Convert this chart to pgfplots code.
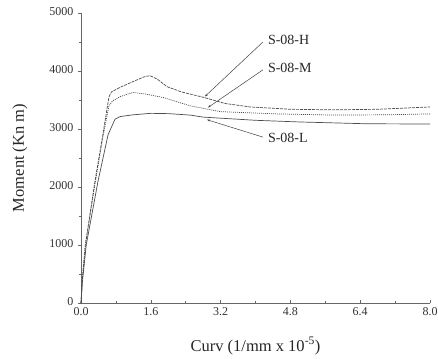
\documentclass[border=0pt]{standalone}
\usepackage{fontspec}
\setmainfont{Liberation Serif}
\usepackage{pgfplots}
\pgfplotsset{compat=1.18}
\usetikzlibrary{arrows.meta}
\begin{document}
\begin{tikzpicture}
\path[use as bounding box] (-81pt,-55pt) rectangle (357pt,303pt);
\begin{axis}[
  scale only axis, width=349pt, height=290pt,
  xmin=0, xmax=8, ymin=0, ymax=5000,
  axis lines=left, axis line style={-, gray!80!black, line width=0.6pt},
  xtick={0,1.6,3.2,4.8,6.4,8.0}, minor x tick num=1,
  ytick={0,1000,2000,3000,4000,5000}, minor y tick num=1,
  major tick length=3pt, minor tick length=2pt,
  tick align=inside,
  tick style={gray!80!black, line width=0.5pt},
  major y tick style={xshift=-3pt},
  minor y tick style={xshift=-2pt},
  xtick pos=bottom, ytick pos=left,
  tick label style={font=\fontsize{12}{14}\selectfont, text=black!80},
  x tick label style={yshift=-1pt, /pgf/number format/.cd, fixed, fixed zerofill, precision=1, assume math mode=true},
  y tick label style={xshift=-4pt, yshift=1pt, /pgf/number format/.cd, fixed, 1000 sep={}, assume math mode=true},
  scaled ticks=false,
  xlabel={Curv (1/mm x 10\textsuperscript{-5})},
  ylabel={Moment (Kn m)},
  label style={font=\fontsize{16.5}{19}\selectfont, text=black!85},
  xlabel style={at={(axis description cs:0.5,0)}, anchor=center, yshift=-43pt},
  ylabel style={at={(axis description cs:0,0.5)}, anchor=center, yshift=61pt},
  clip=false,
]
% S-08-H (dashed)
\addplot[black!70, line width=0.7pt, dash pattern=on 3pt off 1pt] coordinates {
 (0,0) (0.03,400) (0.1,1000) (0.32,2100) (0.5,2900) (0.64,3550) (0.7,3640) (0.9,3720)
 (1.2,3820) (1.45,3900) (1.58,3920) (1.75,3860) (1.97,3730) (2.3,3640) (2.84,3540)
 (3.3,3440) (3.88,3380) (4.8,3340) (5.78,3330) (6.8,3340) (8.0,3380)};
% S-08-M (dotted)
\addplot[black!70, line width=0.7pt, dash pattern=on 1pt off 1pt] coordinates {
 (0,0) (0.03,400) (0.1,1000) (0.32,2050) (0.5,2850) (0.64,3400) (0.72,3480) (0.9,3560)
 (1.19,3630) (1.5,3600) (1.9,3540) (2.5,3400) (3.19,3300) (3.49,3290) (4.5,3260)
 (5.78,3240) (7.0,3245) (8.0,3260)};
% S-08-L (solid)
\addplot[black!70, line width=0.7pt] coordinates {
 (0,0) (0.03,350) (0.12,1000) (0.39,2100) (0.62,2900) (0.78,3170) (0.9,3215)
 (1.2,3245) (1.6,3270) (2.0,3265) (2.5,3240) (2.8,3205) (4.0,3150) (5.02,3121)
 (6.56,3090) (8.0,3086)};
% annotations
\draw[black!75, line width=0.5pt, -{Stealth[length=3pt,width=2pt]}] (axis cs:4.17,4500) -- (axis cs:2.84,3560);
\draw[black!75, line width=0.5pt, -{Stealth[length=3pt,width=2pt]}] (axis cs:4.17,4020) -- (axis cs:2.91,3370);
\draw[black!75, line width=0.5pt, -{Stealth[length=3pt,width=2pt]}] (axis cs:4.17,2860) -- (axis cs:2.89,3160);
\node[anchor=west, font=\fontsize{14}{16}\selectfont, text=black!85, inner sep=1pt] at (axis cs:4.26,4530) {S-08-H};
\node[anchor=west, font=\fontsize{14}{16}\selectfont, text=black!85, inner sep=1pt] at (axis cs:4.26,4050) {S-08-M};
\node[anchor=west, font=\fontsize{14}{16}\selectfont, text=black!85, inner sep=1pt] at (axis cs:4.26,2850) {S-08-L};
\end{axis}
\end{tikzpicture}
\end{document}
